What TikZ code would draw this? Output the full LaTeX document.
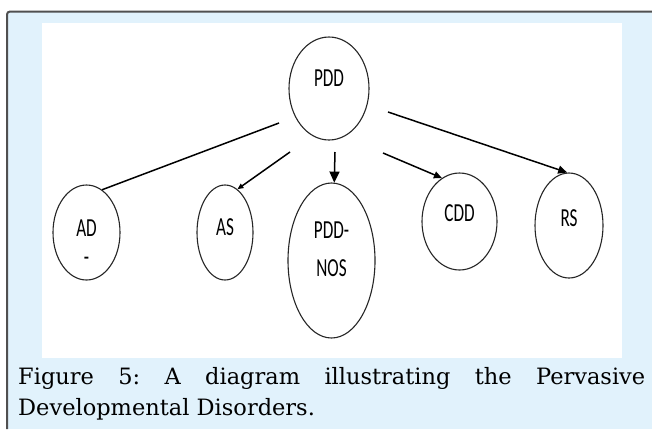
\documentclass[tikz,border=0pt]{standalone}
\usepackage{fontspec}
\usetikzlibrary{shapes.geometric,arrows.meta}
\newfontfamily\nodefont[FakeStretch=0.66]{Carlito}
\newfontfamily\capfont{DejaVu Serif}
\definecolor{panelblue}{RGB}{225,242,252}
\definecolor{framegrey}{RGB}{80,80,80}
\frenchspacing

\begin{document}
\begin{tikzpicture}[x=1pt,y=-1pt,
  disorder/.style={ellipse,draw=black!85,line width=1.1pt,inner sep=0pt},
  abbr/.style={font=\nodefont\fontsize{26}{29}\selectfont,align=center,inner sep=0pt},
  link/.style={line width=1.5pt,-{Triangle[length=8pt,width=7pt]}}]
  \useasboundingbox (0,0) rectangle (652,429);
  \fill[panelblue] (7,11.5) rectangle (652,429);
  \draw[framegrey,line width=2pt,rounded corners=3pt] (7,429) -- (7,11.5) -- (652,11.5);
  \fill[white] (42,23) rectangle (622,358);

  % ellipses
  \node[disorder,minimum width=80pt,minimum height=103pt] (pdd) at (329,88.5) {};
  \node[disorder,minimum width=67pt,minimum height=95pt] (ad) at (86.5,232.5) {};
  \node[disorder,minimum width=56pt,minimum height=95pt] (as) at (225,232.5) {};
  \node[disorder,minimum width=87pt,minimum height=155pt] (nos) at (331.5,260.5) {};
  \node[disorder,minimum width=75pt,minimum height=97pt] (cdd) at (459.5,221.5) {};
  \node[disorder,minimum width=68pt,minimum height=105pt] (rs) at (569,225.5) {};

  % texts
  \node[abbr] (tpdd) at (329,78) {PDD};
  \node[abbr] (tad) at (86.5,243) {AD\\-};
  \node[abbr] (tas) at (225,227) {AS};
  \node[abbr,font=\nodefont\fontsize{26}{38}\selectfont] (tnos) at (331.5,249) {PDD-\\NOS};
  \node[abbr] (tcdd) at (459.5,213) {CDD};
  \node[abbr] (trs) at (569,218) {RS};

  % arrows
  \coordinate (fromad) at (279,123);
  \coordinate (fromas) at (290,152);
  \coordinate (fromnos) at (335,152);
  \coordinate (fromcdd) at (383,153);
  \coordinate (fromrs) at (388,112);
  \draw[line width=1.5pt] (fromad) -- (ad.70);
  \draw[link,-{Triangle[length=6pt,width=5pt]}] (fromas) -- (as.74);
  \draw[link,-{Triangle[length=11pt,width=10pt]}] (fromnos) -- (nos.88);
  \draw[link] (fromcdd) -- (cdd.112);
  \draw[link,-{Triangle[length=9pt,width=8pt]}] (fromrs) -- (rs.92);

  \node[anchor=north west,text width=627pt,align=justify,inner sep=0pt,
        font=\capfont\fontsize{22.5}{31.5}\selectfont] (caption) at (18,367)
    {Figure 5: A diagram illustrating the Pervasive\linebreak Developmental Disorders.};
\end{tikzpicture}
\end{document}
